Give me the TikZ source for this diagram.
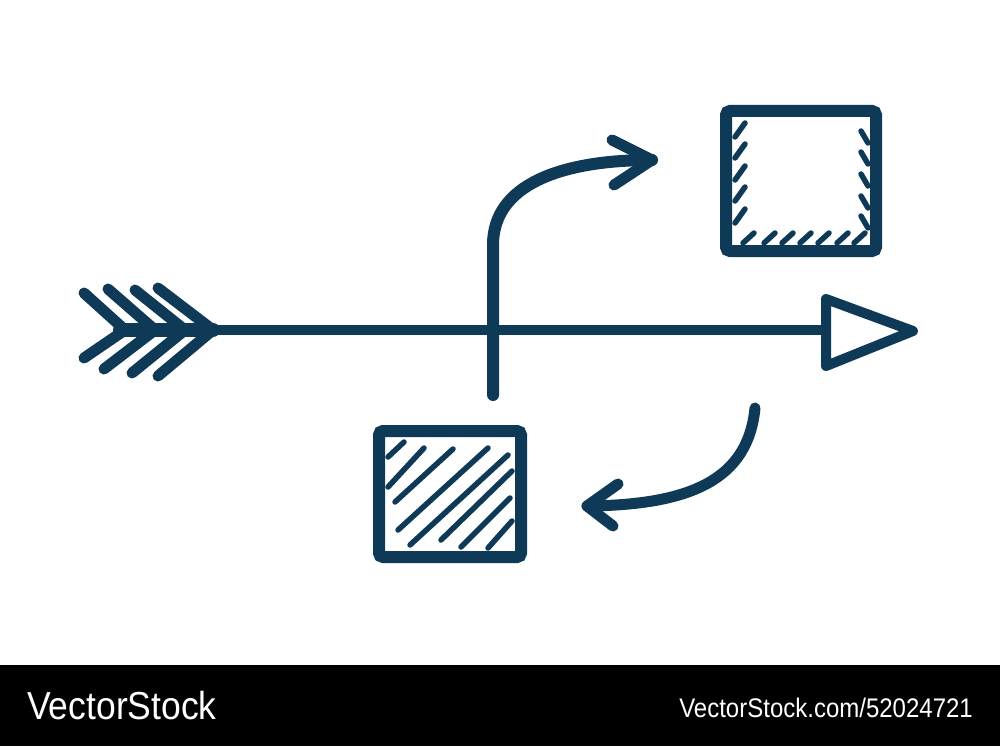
\documentclass[tikz,border=0pt]{standalone}
\usepackage{fontspec}
\setmainfont{Liberation Sans}
\definecolor{ink}{HTML}{0E3A57}
\begin{document}
\begin{tikzpicture}[x=1pt,y=-1pt,
  stroke/.style={draw=ink,line cap=round,line join=round},
  thick stroke/.style={stroke,line width=11pt},
  hatch/.style={stroke,line width=5.5pt},
  boxstyle/.style={draw=ink,line width=12pt,rounded corners=4pt,inner sep=0pt,fill=white},
  wm/.style={text=white,inner sep=0pt}]
\useasboundingbox (0,0) rectangle (1000,746);
\fill[white] (0,0) rectangle (1000,746);
\fill[black] (0,665) rectangle (1000,746);
\node[wm,anchor=west,font=\fontsize{35.5}{36}\selectfont,yscale=1.1] (wml) at (27,706) {VectorStock};
\node[wm,anchor=east,font=\fontsize{24}{24}\selectfont,yscale=1.12] (wmr) at (973,708) {VectorStock.com/52024721};

% boxes
\node[boxstyle,minimum width=150pt,minimum height=140pt] (boxa) at (801,181) {};
\node[boxstyle,minimum width=142pt,minimum height=126pt] (boxb) at (450,494) {};

% hatching box a
\foreach \y in {137,158,180,201,223} \draw[hatch] (735,\y) -- (745,\y-14);
\foreach \x in {743,764,782,800,818,837,854} \draw[hatch] (\x,243) -- (\x+11,233);
\foreach \y in {131,152,174,196,216} \draw[hatch] (861,\y) -- (868,\y+12);

% hatching box b
\draw[hatch] (388,457) -- (404,442);
\draw[hatch] (388,487) -- (424,448);
\draw[hatch] (395,502) -- (453,449);
\draw[hatch] (398,530) -- (488,448);
\draw[hatch] (410,545) -- (508,455);
\draw[hatch] (441,540) -- (512,471);
\draw[hatch] (461,547) -- (510,498);
\draw[hatch] (488,548) -- (512,521);

% main shaft
\coordinate (tail) at (213,330);
\coordinate (head) at (826,330);
\draw[stroke,line width=9.5pt] (tail) -- (head);
\draw[stroke,line width=14pt] (120,330) -- (tail);
% fletching
\foreach \tx/\ty/\ax/\bx/\by in {84/293/125/84/358, 108/289/155/104/369, 135/290/185/132/373, 158/288/213/158/376}
  \draw[thick stroke] (\tx,\ty) -- (\ax,330) -- (\bx,\by);
% head triangle
\draw[stroke,line width=10pt,fill=white] (head) -- (826,299) -- (913,331) -- (826,366) -- cycle;

% upper curved arrow
\coordinate (ua) at (493,395);
\coordinate (ub) at (652,160);
\draw[stroke,line width=12pt] (ua) -- (493,245) .. controls (493,185) and (560,160) .. (ub);
\draw[stroke,line width=11pt] (612,140) -- (ub) -- (614,185);

% lower curved arrow
\coordinate (la) at (755,408);
\coordinate (lb) at (587,506);
\draw[stroke,line width=11pt] (la) .. controls (748,480) and (690,505) .. (lb);
\draw[stroke,line width=11pt] (618,484) -- (lb) -- (613,526);
\end{tikzpicture}
\end{document}
